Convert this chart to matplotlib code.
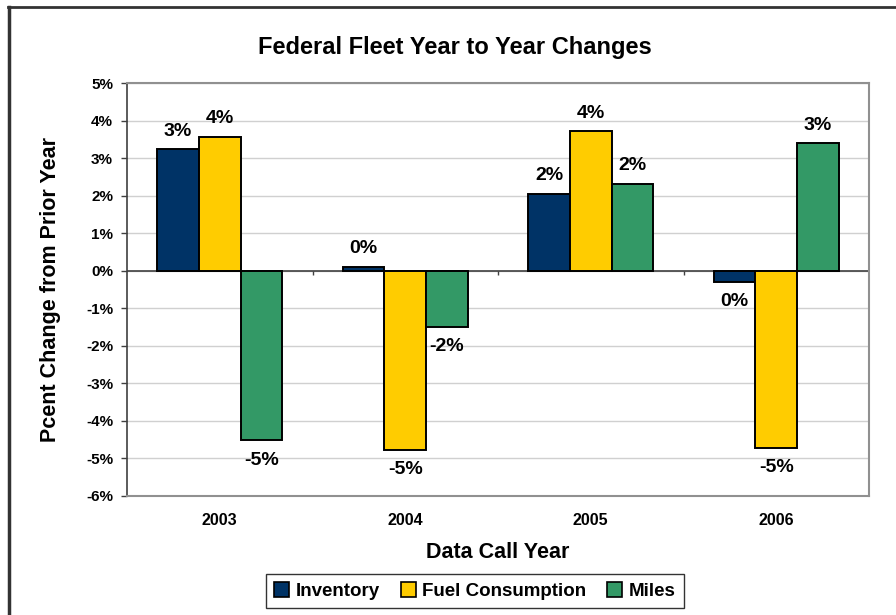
import numpy as np
import matplotlib
matplotlib.use('Agg')
import matplotlib.pyplot as plt
from matplotlib.lines import Line2D

# Data (percent change from prior year)
years = ['2003', '2004', '2005', '2006']
inventory = [3.23, 0.10, 2.05, -0.31]
fuel = [3.57, -4.78, 3.71, -4.73]
miles = [-4.52, -1.50, 2.31, 3.39]
series_names = ['Inventory', 'Fuel Consumption', 'Miles']
colors = ['#003366', '#FFCC00', '#339966']

plt.rcParams['font.family'] = ['Liberation Sans', 'DejaVu Sans']
plt.rcParams['font.weight'] = 'bold'

fig = plt.figure(figsize=(8.96, 6.15), dpi=100)
ax = fig.add_axes([0.1417, 0.1935, 0.8283, 0.6715])

x = np.arange(len(years))
width = 0.225
all_series = [inventory, fuel, miles]
for i, (vals, col, name) in enumerate(zip(all_series, colors, series_names)):
    pos = x + (i - 1) * width
    ax.bar(pos, vals, width, color=col, edgecolor='black',
           linewidth=1.4, label=name, zorder=3)
    for xb, v in zip(pos, vals):
        lbl = f'{round(v):.0f}%'
        if lbl == '-0%':
            lbl = '0%'
        if v >= 0:
            ax.annotate(lbl, (xb, v), xytext=(0, 7), textcoords='offset points',
                        ha='center', va='bottom', fontsize=14, fontweight='bold')
        else:
            ax.annotate(lbl, (xb, v), xytext=(0, -8), textcoords='offset points',
                        ha='center', va='top', fontsize=14, fontweight='bold')

ax.set_xlim(-0.5, len(years) - 0.5)
ax.set_ylim(-6, 5)
yt = np.arange(-6, 6, 1)
ax.set_yticks(yt)
ax.set_yticklabels([f'{t}%' for t in yt], fontsize=11, fontweight='bold')
ax.set_xticks(x)
ax.set_xticklabels(years, fontsize=11.5, fontweight='bold')
ax.tick_params(axis='x', length=0, pad=12)
ax.tick_params(axis='y', length=4, width=1, color='#404040', pad=6)

ax.yaxis.grid(True, color='#d0d0d0', linewidth=1, zorder=0)
ax.set_axisbelow(True)
for side in ['top', 'right', 'bottom']:
    ax.spines[side].set_color('#909090')
    ax.spines[side].set_linewidth(1.5)
ax.spines['left'].set_color('#404040')
ax.spines['left'].set_linewidth(1.2)

# zero axis line with category divider ticks
ax.axhline(0, color='#404040', linewidth=1.2, zorder=2)
ax.vlines(x[:-1] + 0.5, -0.12, 0, color='#404040', linewidth=1, zorder=2)

fig.text(0.508, 0.922, 'Federal Fleet Year to Year Changes', fontsize=17,
         fontweight='bold', ha='center', va='center')
ax.set_ylabel('Pcent Change from Prior Year', fontsize=15.5,
              fontweight='bold', labelpad=18)
ax.set_xlabel('Data Call Year', fontsize=15.5, fontweight='bold', labelpad=10)

handles = [plt.Rectangle((0, 0), 1, 1, facecolor=c, edgecolor='black',
                         linewidth=1.2) for c in colors]
leg = fig.legend(handles, series_names, loc='center', ncol=3,
                 bbox_to_anchor=(0.53, 0.039), frameon=True, fancybox=False,
                 edgecolor='black', handlelength=0.8,
                 handleheight=0.8, handletextpad=0.35, columnspacing=1.1,
                 borderpad=0.45, prop={'weight': 'bold', 'size': 13.5})
leg.get_frame().set_linewidth(1.0)

# outer chart border (top and left edges visible)
fig.add_artist(Line2D([0.009, 1.0], [0.989, 0.989], color='#333333',
                      linewidth=2, transform=fig.transFigure))
fig.add_artist(Line2D([0.0095, 0.0095], [0.0, 0.989], color='#333333',
                      linewidth=2.5, transform=fig.transFigure))

fig.savefig('out.png', dpi=100)
